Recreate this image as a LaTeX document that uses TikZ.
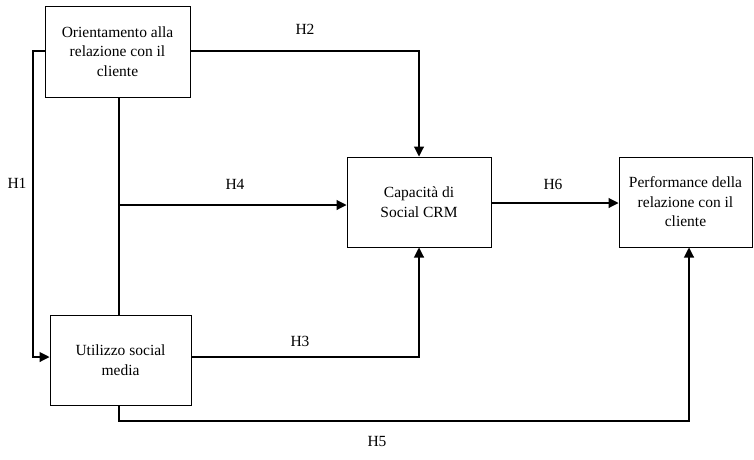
\documentclass[tikz,border=0pt]{standalone}
\usepackage{fontspec}
\setmainfont{Liberation Serif}
\usetikzlibrary{arrows.meta}
\begin{document}
\begin{tikzpicture}[x=1pt,y=-1pt,
  box/.style={draw,line width=1pt,inner sep=0pt,align=center,font=\fontsize{15.5}{19.5}\selectfont},
  lab/.style={font=\fontsize{15.5}{17}\selectfont},
  conn/.style={line width=1.1pt},
  arr/.style={conn,-{Triangle[length=10pt,width=10pt]}}]
\useasboundingbox (0,0) rectangle (754,459);
\node[box,minimum width=145pt,minimum height=91pt] (A) at (117.5,51.5) {Orientamento alla\\relazione con il\\cliente};
\node[box,minimum width=141pt,minimum height=90pt] (B) at (120.5,360) {Utilizzo social\\media};
\node[box,minimum width=144pt,minimum height=90pt] (C) at (419,202) {Capacità di\\Social CRM};
\node[box,minimum width=133pt,minimum height=90pt] (D) at (685.5,202) {Performance della\\relazione con il\\cliente};
% H1
\coordinate (h1a) at (33,51);
\coordinate (h1b) at (33,357);
\draw[arr] (A.west |- h1a) -- (h1a) -- (h1b) -- (B.west |- h1b);
% vertical A-B
\coordinate (m) at (119,205);
\draw[conn] (A.south -| m) -- (B.north -| m);
% H4
\draw[arr] (m) -- (C.west |- m);
% H2
\coordinate (h2) at (419,51);
\draw[arr] (A.east |- h2) -- (h2) -- (C.north -| h2);
% H3
\coordinate (h3) at (419,357);
\draw[arr] (B.east |- h3) -- (h3) -- (C.south -| h3);
% H5
\coordinate (h5a) at (119,421);
\coordinate (h5b) at (689,421);
\draw[arr] (B.south -| h5a) -- (h5a) -- (h5b) -- (D.south -| h5b);
% H6
\draw[arr] (C.east |- 0,203) -- (D.west |- 0,203);
\node[lab] (l1) at (17,183) {H1};
\node[lab] (l2) at (305,29) {H2};
\node[lab] (l4) at (235,184) {H4};
\node[lab] (l6) at (553,184) {H6};
\node[lab] (l3) at (300,341) {H3};
\node[lab] (l5) at (377,441) {H5};
\end{tikzpicture}
\end{document}
